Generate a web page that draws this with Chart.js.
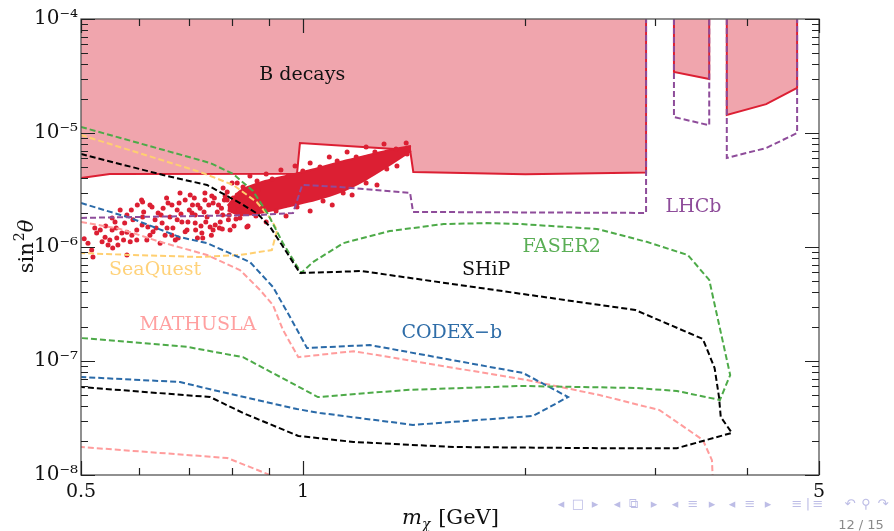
<!DOCTYPE html>
<html>
<head>
<meta charset="utf-8">
<script src="https://cdn.jsdelivr.net/npm/chart.js@4.4.1/dist/chart.umd.min.js"></script>
<style>
  html, body { margin: 0; padding: 0; background: #fff; }
</style>
</head>
<body>
<canvas id="limitsChart" width="894" height="531"></canvas>
<script>
// tick values / labels
const xTickValues = [0.5, 1, 5];
const xTickLabels = ['0.5', '1', '5'];
const xMinorTicks = [0.6, 0.7, 0.8, 0.9, 2, 3, 4];
const yTickValues = [1e-8, 1e-7, 1e-6, 1e-5, 1e-4];
const yTickLabels = ['10⁻⁸', '10⁻⁷', '10⁻⁶', '10⁻⁵', '10⁻⁴'];

// B decays excluded regions (filled up to the top)
const bMainX = [0.5, 0.547, 0.981, 0.99, 1.396, 1.41, 2.0, 2.915, 2.915];
const bMainY = [4.03e-6, 4.37e-6, 4.4e-6, 8.17e-6, 7.10e-6, 4.55e-6, 4.35e-6, 4.5e-6, 1e-4];
const bMidX = [3.18, 3.18, 3.55, 3.55];
const bMidY = [1e-4, 3.43e-5, 2.98e-5, 1e-4];
const bRightX = [3.75, 3.75, 4.24, 4.67, 4.67];
const bRightY = [1e-4, 1.44e-5, 1.79e-5, 2.49e-5, 1e-4];

// LHCb (null = break in the line)
const lhcbX = [0.5, 0.874, 0.969, 0.997, 1.122, 1.396, 1.409, 2.915, 2.915, 3.05, 3.18, 3.18, 3.55, 3.55, 3.65, 3.75, 3.75, 4.24, 4.67, 4.67];
const lhcbY = [1.80e-6, 1.91e-6, 1.99e-6, 3.50e-6, 3.36e-6, 2.98e-6, 2.03e-6, 1.99e-6, 1e-4, null, 1e-4, 1.38e-5, 1.17e-5, 1e-4, null, 1e-4, 6.04e-6, 7.38e-6, 1.0e-5, 1e-4];

// SHiP
const shipX = [0.5, 0.646, 0.741, 0.821, 0.868, 0.902, 0.936, 0.990, 1.20, 2.82, 3.48, 3.61, 3.66, 3.68, 3.81, 3.21, 2.52, 1.60, 1.17, 0.985, 0.829, 0.748, 0.5];
const shipY = [6.54e-6, 4.28e-6, 3.50e-6, 2.43e-6, 1.95e-6, 1.50e-6, 1.04e-6, 5.91e-7, 6.15e-7, 2.80e-7, 1.56e-7, 8.68e-8, 4.83e-8, 3.23e-8, 2.34e-8, 1.72e-8, 1.72e-8, 1.76e-8, 1.95e-8, 2.20e-8, 3.50e-8, 4.83e-8, 5.91e-8];

// FASER2
const faserX = [0.5, 0.748, 0.804, 0.855, 0.894, 0.939, 0.994, 1.031, 1.133, 1.31, 1.55, 1.77, 1.97, 2.50, 2.92, 3.32, 3.55, 3.79, 3.67, 3.21, 2.82, 1.97, 1.38, 1.047, 0.829, 0.696, 0.5];
const faserY = [1.13e-5, 5.46e-6, 4.37e-6, 3.10e-6, 1.99e-6, 1.08e-6, 5.91e-7, 7.38e-7, 1.08e-6, 1.38e-6, 1.59e-6, 1.62e-6, 1.59e-6, 1.44e-6, 1.11e-6, 8.51e-7, 5.14e-7, 7.53e-8, 4.55e-8, 5.46e-8, 5.80e-8, 6.04e-8, 5.57e-8, 4.83e-8, 1.08e-7, 1.33e-7, 1.59e-7];

// SeaQuest
const seaquestX = [0.5, 0.725, 0.804, 0.865, 0.902, 0.922, 0.907, 0.821, 0.725, 0.583, 0.5];
const seaquestY = [9.60e-6, 4.55e-6, 3.50e-6, 2.48e-6, 1.80e-6, 1.41e-6, 9.41e-7, 8.51e-7, 8.17e-7, 8.51e-7, 8.86e-7];

// CODEX-b
const codexX = [0.5, 0.583, 0.681, 0.741, 0.847, 0.910, 0.960, 1.012, 1.232, 1.986, 2.285, 2.049, 1.409, 1.054, 0.981, 0.755, 0.681, 0.5];
const codexY = [2.43e-6, 1.80e-6, 1.22e-6, 1.08e-6, 7.38e-7, 4.46e-7, 2.43e-7, 1.30e-7, 1.38e-7, 7.85e-8, 4.83e-8, 3.30e-8, 2.75e-8, 3.50e-8, 3.79e-8, 5.57e-8, 6.54e-8, 7.24e-8];

// MATHUSLA (leaves through the bottom edge)
const mathuslaX = [0.5, 0.565, 0.640, 0.741, 0.821, 0.874, 0.910, 0.939, 0.985, 1.17, 2.01, 2.52, 3.04, 3.48, 3.58, 3.59, 2.0, 0.94, 0.902, 0.789, 0.5];
const mathuslaY = [1.66e-6, 1.44e-6, 1.11e-6, 8.51e-7, 6.28e-7, 4.20e-7, 3.10e-7, 1.87e-7, 1.08e-7, 1.22e-7, 6.81e-8, 5.03e-8, 3.71e-8, 2.03e-8, 1.35e-8, 9e-9, null, 7.8e-9, 1.0e-8, 1.41e-8, 1.76e-8];

// model points: dense core band
const coreX = [0.790, 0.821, 0.888, 0.960, 1.038, 1.122, 1.213, 1.31, 1.40];
const coreUpper = [2.30e-6, 3.10e-6, 3.79e-6, 4.28e-6, 4.83e-6, 5.57e-6, 6.28e-6, 7.10e-6, 7.69e-6];
const coreLower = [2.10e-6, 1.90e-6, 2.03e-6, 2.29e-6, 2.58e-6, 3.03e-6, 3.87e-6, 5.24e-6, 6.95e-6];

// model points: individual scattered points
const dotsX = [0.505, 0.519, 0.522, 0.525, 0.534, 0.539, 0.544, 0.551, 0.552, 0.559,
  0.565, 0.568, 0.573, 0.577, 0.583, 0.588, 0.595, 0.604, 0.606, 0.614,
  0.616, 0.624, 0.626, 0.636, 0.640, 0.644, 0.650, 0.656, 0.660, 0.666,
  0.675, 0.677, 0.685, 0.692, 0.696, 0.703, 0.707, 0.714, 0.720, 0.729,
  0.736, 0.741, 0.748, 0.755, 0.765, 0.772, 0.779, 0.789, 0.796, 0.804,
  0.814, 0.821, 0.829, 0.839, 0.847, 0.855, 0.868,
  0.606, 0.577, 0.547, 0.681, 0.731, 0.755,
  0.736, 0.752, 0.768, 0.778, 0.789, 0.804, 0.817, 0.816, 0.792, 0.760, 0.738, 0.725, 0.714,
  0.511, 0.517, 0.531, 0.540, 0.556, 0.561, 0.577, 0.585, 0.595, 0.608, 0.620, 0.630, 0.646, 0.654, 0.664, 0.671, 0.683, 0.698, 0.708, 0.715,
  0.620, 0.632, 0.642, 0.653, 0.664, 0.675, 0.679, 0.692, 0.701, 0.712, 0.719, 0.727, 0.734, 0.745, 0.751,
  0.758, 0.770, 0.775, 0.782, 0.794, 0.799, 0.806, 0.814, 0.819, 0.605, 0.596, 0.586, 0.571, 0.558, 0.551,
  0.784, 0.801, 0.829, 0.847, 0.866, 0.891, 0.908, 0.933, 0.954, 0.975, 0.999, 1.022, 1.054, 1.085, 1.112, 1.147, 1.180, 1.217, 1.251, 1.287, 1.336, 1.379,
  0.777, 0.811, 0.842, 0.863, 0.891, 0.919, 0.948, 0.981, 1.022, 1.064, 1.095, 1.133, 1.165, 1.217, 1.259, 1.298, 1.340, 1.383];
const dotsY = [1.18e-6, 8.17e-7, 1.47e-6, 1.33e-6, 1.11e-6, 1.22e-6, 1.04e-6, 1.41e-6, 9.80e-7, 1.20e-6,
  2.11e-6, 1.33e-6, 1.62e-6, 1.91e-6, 1.11e-6, 1.73e-6, 1.41e-6, 2.58e-6, 1.83e-6, 1.15e-6,
  1.50e-6, 2.24e-6, 1.36e-6, 1.99e-6, 1.08e-6, 1.62e-6, 1.27e-6, 2.43e-6, 1.83e-6, 1.47e-6,
  2.11e-6, 1.20e-6, 1.66e-6, 2.58e-6, 1.41e-6, 2.86e-6, 1.99e-6, 1.62e-6, 2.33e-6, 1.33e-6,
  2.98e-6, 1.83e-6, 1.50e-6, 2.43e-6, 2.03e-6, 1.66e-6, 3.30e-6, 2.58e-6, 1.41e-6, 2.20e-6,
  3.64e-6, 1.80e-6, 2.98e-6, 1.50e-6, 2.43e-6, 1.99e-6, 3.16e-6,
  2.48e-6, 8.51e-7, 1.15e-6, 2.98e-6, 1.20e-6, 1.41e-6,
  2.58e-6, 2.80e-6, 2.33e-6, 1.91e-6, 3.03e-6, 2.69e-6, 2.03e-6, 2.33e-6, 1.73e-6, 1.56e-6, 1.66e-6, 2.19e-6, 1.91e-6,
  1.08e-6, 9.41e-7, 1.41e-6, 1.53e-6, 1.66e-6, 1.04e-6, 1.35e-6, 2.11e-6, 1.15e-6, 2.03e-6, 1.27e-6, 1.73e-6, 2.19e-6, 1.47e-6, 2.33e-6, 1.15e-6, 1.95e-6, 1.66e-6, 2.33e-6, 1.41e-6,
  2.33e-6, 1.47e-6, 1.91e-6, 2.69e-6, 1.27e-6, 1.73e-6, 2.43e-6, 1.36e-6, 2.11e-6, 2.69e-6, 1.20e-6, 1.53e-6, 2.03e-6, 2.33e-6, 1.27e-6,
  2.69e-6, 1.47e-6, 2.19e-6, 2.58e-6, 1.91e-6, 2.33e-6, 1.53e-6, 2.86e-6, 2.11e-6, 1.56e-6, 2.33e-6, 1.27e-6, 1.15e-6, 1.47e-6, 1.80e-6,
  2.80e-6, 3.64e-6, 3.36e-6, 4.19e-6, 3.79e-6, 4.37e-6, 3.95e-6, 4.73e-6, 4.19e-6, 5.13e-6, 4.64e-6, 5.46e-6, 5.03e-6, 6.15e-6, 5.68e-6, 6.82e-6, 6.15e-6, 7.54e-6, 6.82e-6, 8.01e-6, 7.24e-6, 8.17e-6,
  1.44e-6, 1.76e-6, 1.53e-6, 1.87e-6, 1.66e-6, 2.07e-6, 1.87e-6, 2.24e-6, 2.07e-6, 2.53e-6, 2.33e-6, 2.98e-6, 2.86e-6, 3.64e-6, 3.50e-6, 4.83e-6, 5.13e-6, 6.54e-6];

// region labels
const labelText = ['B decays', 'LHCb', 'FASER2', 'SHiP', 'SeaQuest', 'MATHUSLA', 'CODEX−b'];
const labelX = [0.997, 3.38, 2.24, 1.77, 0.630, 0.720, 1.59];
const labelY = [3.23e-5, 2.24e-6, 1.0e-6, 6.28e-7, 6.28e-7, 2.07e-7, 1.76e-7];
const labelColor = ['#111111', '#8E4C9A', '#5AAE55', '#111111', '#FFD27A', '#FFA0A0', '#2F6DA8'];

const SERIF = "'DejaVu Serif', serif";
const RED = '#DC1F33';

const pts = (xs, ys) => xs.map((x, i) => ({ x: x, y: ys[i] }));

const dashed = (label, xs, ys, color, order) => ({
    label: label,
    data: pts(xs, ys),
    borderColor: color,
    borderWidth: 2,
    borderDash: [6, 3],
    pointRadius: 0,
    fill: false,
    tension: 0,
    order: order
});

const bRegion = (label, xs, ys, order) => ({
    label: label,
    data: pts(xs, ys),
    borderColor: RED,
    borderWidth: 2,
    backgroundColor: '#F0A5AD',
    pointRadius: 0,
    fill: 'end',
    tension: 0,
    order: order
});

// text labels, frame, inward ticks, axis titles
const decor = {
    id: 'decor',
    afterDatasetsDraw(chart) {
        const { ctx, scales: { x, y } } = chart;
        ctx.save();
        ctx.font = '19px ' + SERIF;
        ctx.textAlign = 'center';
        ctx.textBaseline = 'middle';
        labelText.forEach((t, i) => {
            ctx.fillStyle = labelColor[i];
            ctx.fillText(t, x.getPixelForValue(labelX[i]), y.getPixelForValue(labelY[i]));
        });
        ctx.restore();
    },
    afterDraw(chart) {
        const { ctx, chartArea: a, scales: { x, y } } = chart;
        ctx.save();
        ctx.setLineDash([]);

        // frame
        ctx.strokeStyle = '#555';
        ctx.lineWidth = 1.3;
        ctx.strokeRect(a.left, a.top, a.right - a.left, a.bottom - a.top);

        // inward ticks on all four sides
        ctx.strokeStyle = '#222';
        ctx.lineWidth = 1.2;
        ctx.beginPath();
        const xTick = (v, len) => {
            const p = Math.round(x.getPixelForValue(v)) + 0.5;
            ctx.moveTo(p, a.bottom); ctx.lineTo(p, a.bottom - len);
            ctx.moveTo(p, a.top); ctx.lineTo(p, a.top + len);
        };
        const yTick = (v, len) => {
            const p = Math.round(y.getPixelForValue(v)) + 0.5;
            ctx.moveTo(a.left, p); ctx.lineTo(a.left + len, p);
            ctx.moveTo(a.right, p); ctx.lineTo(a.right - len, p);
        };
        xTickValues.forEach(v => xTick(v, 14));
        xMinorTicks.forEach(v => xTick(v, 7));
        yTickValues.forEach(v => yTick(v, 14));
        yTickValues.slice(0, -1).forEach(d => {
            for (let m = 2; m <= 9; m++) yTick(d * m, 7);
        });
        ctx.stroke();

        // x axis title: m_chi [GeV]
        ctx.fillStyle = '#111';
        ctx.textBaseline = 'alphabetic';
        ctx.textAlign = 'left';
        const cx = (a.left + a.right) / 2;
        const by = 524;
        ctx.font = 'italic 21px ' + SERIF;
        const wm = ctx.measureText('m').width;
        ctx.font = 'italic 14px ' + SERIF;
        const wc = ctx.measureText('χ').width;
        ctx.font = '21px ' + SERIF;
        const wg = ctx.measureText(' [GeV]').width;
        let sx = cx - (wm + wc + wg) / 2;
        ctx.font = 'italic 21px ' + SERIF;
        ctx.fillText('m', sx, by);
        ctx.font = 'italic 14px ' + SERIF;
        ctx.fillText('χ', sx + wm, by + 5);
        ctx.font = '21px ' + SERIF;
        ctx.fillText(' [GeV]', sx + wm + wc + 1, by);

        // y axis title: sin^2 theta
        ctx.translate(33, 247);
        ctx.rotate(-Math.PI / 2);
        ctx.font = '21px ' + SERIF;
        const ws = ctx.measureText('sin').width;
        ctx.font = '14px ' + SERIF;
        const w2 = ctx.measureText('2').width;
        ctx.font = 'italic 21px ' + SERIF;
        const wt = ctx.measureText('θ').width;
        sx = -(ws + w2 + wt) / 2;
        ctx.font = '21px ' + SERIF;
        ctx.fillText('sin', sx, 0);
        ctx.font = '14px ' + SERIF;
        ctx.fillText('2', sx + ws + 1, -9);
        ctx.font = 'italic 21px ' + SERIF;
        ctx.fillText('θ', sx + ws + w2 + 1, 0);
        ctx.restore();

        // beamer navigation and page number
        ctx.save();
        ctx.fillStyle = '#BDBDE6';
        ctx.textAlign = 'center';
        ctx.textBaseline = 'middle';
        ctx.font = '13px "DejaVu Sans", sans-serif';
        const nav = [[561, '◂'], [578, '□'], [595, '▸'], [617, '◂'], [633, '⧉'], [654, '▸'], [675, '◂'], [693, '≡'], [712, '▸'],
            [732, '◂'], [750, '≡'], [768, '▸'], [797, '≡'], [808, '|'], [818, '≡'], [850, '↶'], [866, '⚲'], [883, '↷']];
        nav.forEach(n => ctx.fillText(n[1], n[0], 505));
        ctx.fillStyle = '#8A8A8A';
        ctx.fillText('12 / 15', 861, 526);
        ctx.restore();
    }
};

const coreFill = {
    label: 'model core',
    data: pts(coreX, coreUpper),
    borderColor: RED,
    borderWidth: 2,
    backgroundColor: RED,
    pointRadius: 0,
    fill: '+1',
    tension: 0.2,
    order: 8
};
const coreEdge = {
    label: 'model core low',
    data: pts(coreX, coreLower),
    borderColor: RED,
    borderWidth: 2,
    pointRadius: 0,
    fill: false,
    tension: 0.2,
    order: 9
};
const dots = {
    label: 'model points',
    data: pts(dotsX, dotsY),
    showLine: false,
    pointRadius: 2.5,
    pointBorderWidth: 0,
    pointBackgroundColor: RED,
    order: 7
};

new Chart(document.getElementById('limitsChart'), {
    type: 'line',
    data: {
        datasets: [
            dashed('LHCb', lhcbX, lhcbY, '#8E4C9A', 1),
            dashed('SHiP', shipX, shipY, '#000000', 2),
            dashed('FASER2', faserX, faserY, '#4DAA48', 3),
            dashed('CODEX-b', codexX, codexY, '#2A6AA8', 4),
            dashed('MATHUSLA', mathuslaX, mathuslaY, '#FF9C9C', 5),
            dashed('SeaQuest', seaquestX, seaquestY, '#FFCF70', 6),
            dots,
            coreFill,
            coreEdge,
            bRegion('B decays 3', bRightX, bRightY, 10),
            bRegion('B decays 2', bMidX, bMidY, 11),
            bRegion('B decays 1', bMainX, bMainY, 12)
        ]
    },
    options: {
        responsive: false,
        animation: false,
        devicePixelRatio: 1,
        layout: { padding: { left: 0, right: 75, top: 19, bottom: 0 } },
        plugins: { legend: { display: false }, tooltip: { enabled: false } },
        scales: {
            x: {
                type: 'logarithmic',
                min: 0.5,
                max: 5,
                grid: { display: false, drawTicks: false },
                border: { display: false },
                afterBuildTicks: s => { s.ticks = xTickValues.map(v => ({ value: v })); },
                afterFit: s => { s.height = 56; },
                ticks: {
                    autoSkip: false,
                    maxRotation: 0,
                    padding: 6,
                    color: '#111',
                    font: { family: SERIF, size: 19 },
                    callback: (v, i) => xTickLabels[i]
                }
            },
            y: {
                type: 'logarithmic',
                min: 1e-8,
                max: 1e-4,
                grid: { display: false, drawTicks: false },
                border: { display: false },
                afterBuildTicks: s => { s.ticks = yTickValues.map(v => ({ value: v })); },
                afterFit: s => { s.width = 81; },
                ticks: {
                    autoSkip: false,
                    padding: 3,
                    color: '#111',
                    font: { family: SERIF, size: 20 },
                    callback: (v, i) => yTickLabels[i]
                }
            }
        }
    },
    plugins: [decor]
});
</script>
</body>
</html>
